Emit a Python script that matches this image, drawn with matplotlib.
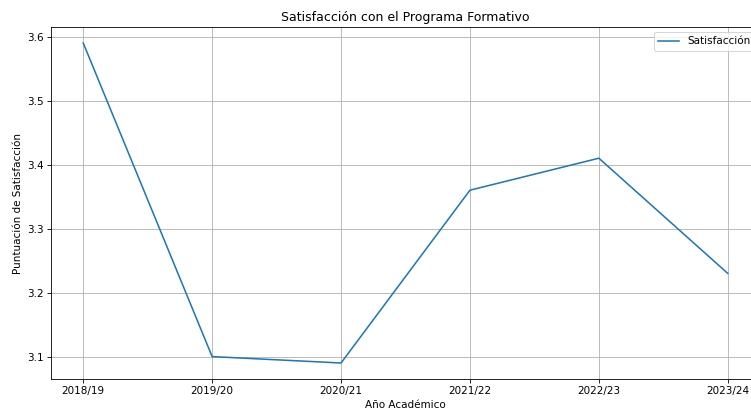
import matplotlib
matplotlib.use("Agg")
import matplotlib.pyplot as plt

cursos = ["2018/19", "2019/20", "2020/21", "2021/22", "2022/23", "2023/24"]
satisfaccion = [3.59, 3.10, 3.09, 3.36, 3.41, 3.23]

# the reference looks like a 10-inch figure shrunk down, so use a lower dpi
fig = plt.figure(figsize=(10, 412 / 75.1), dpi=75.1)
ax = fig.add_axes([51 / 751, 1 - 379 / 412, 709 / 751, 352 / 412])

ax.plot(cursos, satisfaccion, label="Satisfacción")
ax.set_title("Satisfacción con el Programa Formativo")
ax.set_xlabel("Año Académico")
ax.set_ylabel("Puntuación de Satisfacción")
ax.grid(True)
ax.legend(loc="upper right")

fig.savefig("out.png", dpi=75.1)
